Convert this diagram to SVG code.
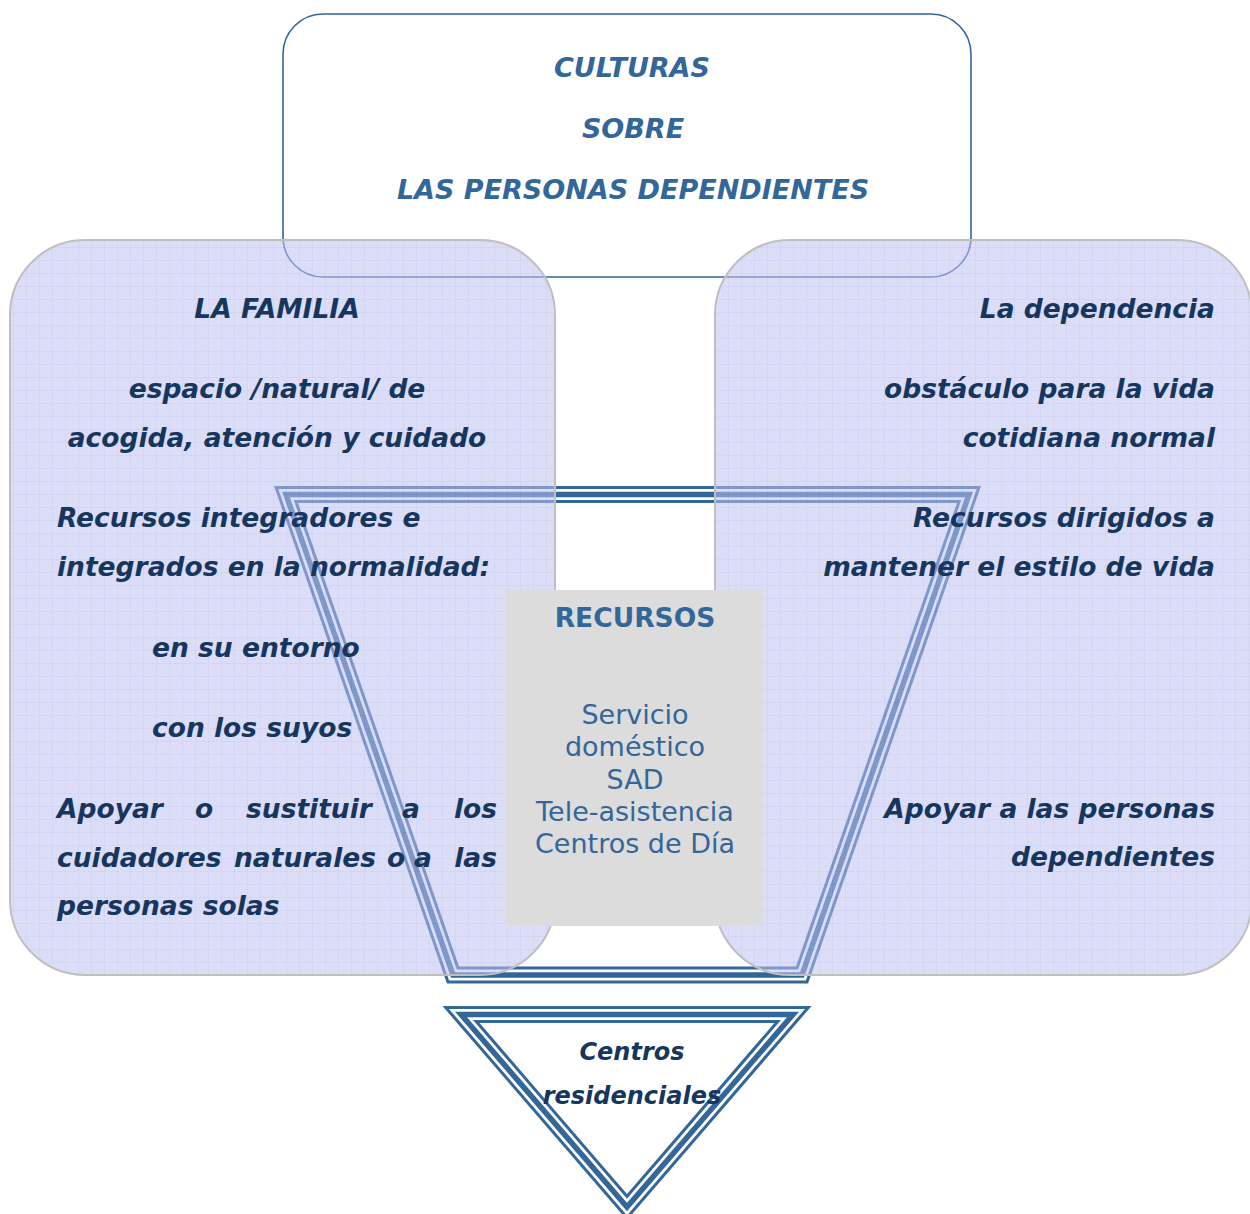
<svg xmlns="http://www.w3.org/2000/svg" width="1250" height="1214" viewBox="0 0 1250 1214">
<defs>
<pattern id="tex" width="13" height="13" patternUnits="userSpaceOnUse">
<rect width="13" height="13" fill="#bfc2f3"/>
<path d="M0 0.5H13M0.5 0V13" stroke="#aeb2ec" stroke-width="1"/>
<path d="M3 4h2M7 8h2M4 10h1M9 3h1" stroke="#b3b7ef" stroke-width="1"/>
</pattern>
<style>
.t{font-family:"DejaVu Sans",Verdana,sans-serif;font-weight:bold;font-style:italic;font-size:26.5px;fill:#17365d}
.top{font-family:"DejaVu Sans",Verdana,sans-serif;font-weight:bold;font-style:italic;font-size:27px;fill:#336699;text-anchor:middle}
.rc{font-family:"DejaVu Sans",Verdana,sans-serif;font-size:27px;fill:#336699;text-anchor:middle}
.rh{font-weight:bold;font-size:26.5px}
.tri{font-size:24px}
.blob{fill:url(#tex);fill-opacity:0.55;stroke:#bfbfbf;stroke-width:2}
.b1{fill:none;stroke:#336699;stroke-width:17;stroke-linejoin:miter;stroke-miterlimit:10}
.b2{fill:none;stroke:#ffffff;stroke-width:11;stroke-linejoin:miter;stroke-miterlimit:10}
.b3{fill:none;stroke:#336699;stroke-width:5.5;stroke-linejoin:miter;stroke-miterlimit:10}
.e{text-anchor:end}
.m{text-anchor:middle}
</style>
</defs>
<rect width="1250" height="1214" fill="#ffffff"/>

<g id="culturas">
<rect x="283" y="14" width="688" height="263" rx="40" fill="#ffffff" stroke="#336699" stroke-width="1.6"/>
<text class="top" x="632" y="77">CULTURAS</text>
<text class="top" x="633" y="138">SOBRE</text>
<text class="top" x="633" y="199">LAS PERSONAS DEPENDIENTES</text>
</g>

<g id="connectors">
<g id="marco-recursos">
<polygon class="b1" points="286,494.5 969,494.5 802,975 453,975"/>
<polygon class="b2" points="286,494.5 969,494.5 802,975 453,975"/>
<polygon class="b3" points="286,494.5 969,494.5 802,975 453,975"/>
</g>
</g>

<g id="familia">
<rect class="blob" x="10" y="240" width="545" height="735" rx="75"/>
<text class="t m" x="277" y="318">LA FAMILIA</text>
<text class="t m" x="277" y="398">espacio /natural/ de</text>
<text class="t m" x="277" y="447">acogida, atención y cuidado</text>
<text class="t" x="57" y="527">Recursos integradores e</text>
<text class="t" x="57" y="576">integrados en la normalidad:</text>
<text class="t" x="152" y="657">en su entorno</text>
<text class="t" x="152" y="737">con los suyos</text>
<text class="t" y="818"><tspan x="57">Apoyar</tspan><tspan x="195">o</tspan><tspan x="246">sustituir</tspan><tspan x="402">a</tspan></text>
<text class="t e" x="497" y="818">los</text>
<text class="t" y="867"><tspan x="57">cuidadores</tspan><tspan x="234">naturales</tspan><tspan x="387">o</tspan><tspan x="414">a</tspan></text>
<text class="t e" x="497" y="867">las</text>
<text class="t" x="57" y="915">personas solas</text>
</g>

<g id="dependencia">
<rect class="blob" x="715" y="240" width="537" height="735" rx="75"/>
<text class="t e" x="1215" y="318">La dependencia</text>
<text class="t e" x="1215" y="398">obstáculo para la vida</text>
<text class="t e" x="1215" y="447">cotidiana normal</text>
<text class="t e" x="1215" y="527">Recursos dirigidos a</text>
<text class="t e" x="1215" y="576">mantener el estilo de vida</text>
<text class="t e" x="1215" y="818">Apoyar a las personas</text>
<text class="t e" x="1215" y="866">dependientes</text>
</g>

<g id="recursos">
<rect x="505" y="590" width="258" height="336" fill="#dcdcdc"/>
<text class="rc rh" x="635" y="627">RECURSOS</text>
<text class="rc" x="635" y="724">Servicio</text>
<text class="rc" x="635" y="756">doméstico</text>
<text class="rc" x="635" y="789">SAD</text>
<text class="rc" x="635" y="821">Tele-asistencia</text>
<text class="rc" x="635" y="853">Centros de Día</text>
</g>

<g id="centros-residenciales">
<polygon points="461,1014.5 793,1014.5 627,1207" fill="#ffffff"/>
<polygon class="b1" points="461,1014.5 793,1014.5 627,1207"/>
<polygon class="b2" points="461,1014.5 793,1014.5 627,1207"/>
<polygon class="b3" points="461,1014.5 793,1014.5 627,1207"/>
<text class="t m tri" x="632" y="1060">Centros</text>
<text class="t m tri" x="632" y="1104">residenciales</text>
</g>
</svg>
